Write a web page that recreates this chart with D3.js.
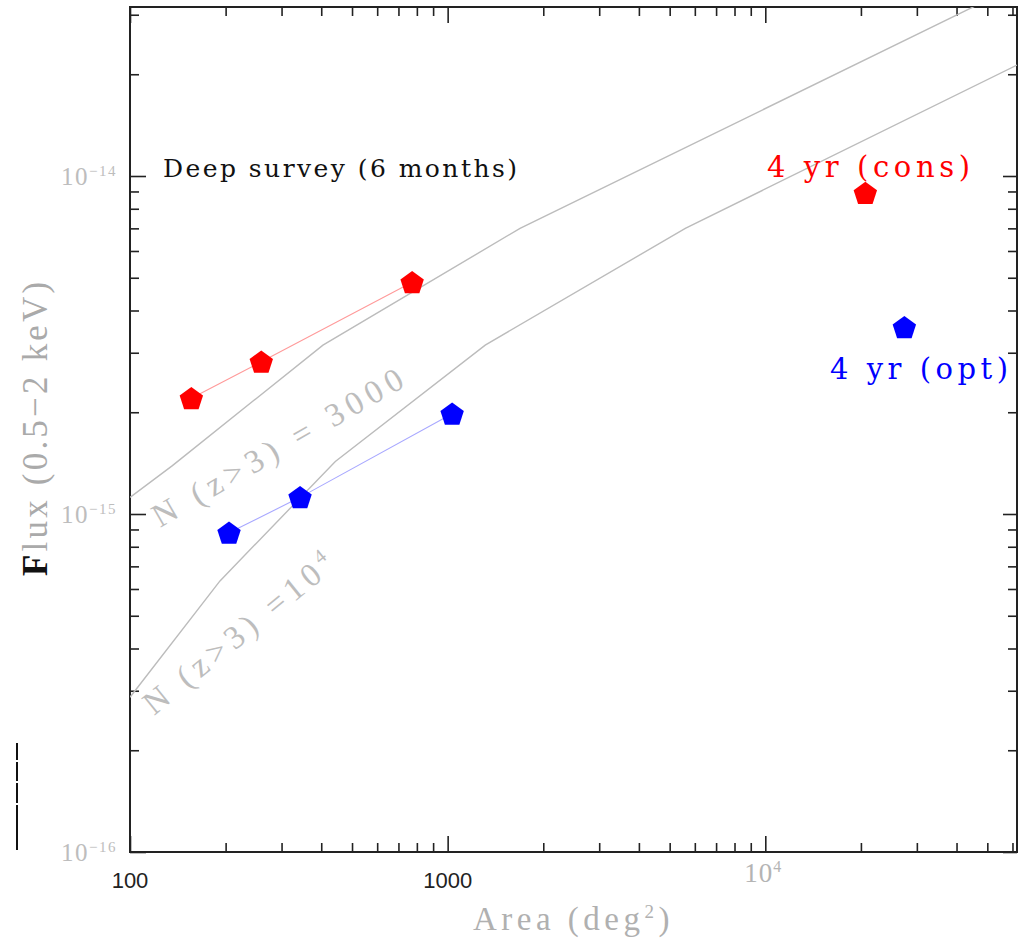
<!DOCTYPE html>
<html>
<head>
<meta charset="utf-8">
<script src="https://cdn.jsdelivr.net/npm/d3@7"></script>
<style>
  body { margin: 0; background: #fff; }
  svg { display: block; }
</style>
</head>
<body>
<svg id="chart" width="1019" height="941"></svg>
<script>
// Survey area (deg^2) versus limiting flux in the 0.5-2 keV band.
// Deep survey (6 months), conservative and optimistic cases
const deepConsArea = [156, 259, 773];
const deepConsFlux = [2.20e-15, 2.82e-15, 4.85e-15];
const deepOptArea  = [205, 343, 1033];
const deepOptFlux  = [8.8e-16, 1.12e-15, 1.98e-15];

// 4-year all-sky survey, conservative and optimistic
const allSkyConsArea = [20650];
const allSkyConsFlux = [8.9e-15];
const allSkyOptArea  = [27400];
const allSkyOptFlux  = [3.57e-15];

// Curves of constant number of z>3 sources
const n3000Area = [100, 136, 405, 1690, 62000];
const n3000Flux = [1.12e-15, 1.39e-15, 3.16e-15, 7.0e-15, 3.66e-14];
const n10kArea  = [100, 192, 443, 1313, 5600, 62000];
const n10kFlux  = [2.87e-16, 6.34e-16, 1.43e-15, 3.16e-15, 7.0e-15, 2.13e-14];

// Axis ticks
const areaMajorTicks = [100, 1000, 10000];
const areaMinorTicks = [200, 300, 400, 500, 600, 700, 800, 900,
                        2000, 3000, 4000, 5000, 6000, 7000, 8000, 9000,
                        20000, 30000, 40000, 50000, 60000];
const fluxMajorTicks = [1e-16, 1e-15, 1e-14];
const fluxMinorTicks = [2e-16, 3e-16, 4e-16, 5e-16, 6e-16, 7e-16, 8e-16, 9e-16,
                        2e-15, 3e-15, 4e-15, 5e-15, 6e-15, 7e-15, 8e-15, 9e-15,
                        2e-14, 3e-14];
const areaTickLabels = ["100", "1000", "10|4"];
const fluxTickLabels = ["10|\u221216", "10|\u221215", "10|\u221214"];

const svg = d3.select("#chart");
const L = 130, R = 1017, T = 7, B = 852;
const SERIF = "Liberation Serif, Times New Roman, serif";
const WIDE_SERIF = "DejaVu Serif, serif";

const x = d3.scaleLog().domain([100, 62000]).range([L, R]);
const y = d3.scaleLog().domain([1e-16, Math.pow(10, -13.5)]).range([B, T]);

svg.append("defs").append("clipPath").attr("id", "plotArea")
  .append("rect").attr("x", L).attr("y", T).attr("width", R - L).attr("height", B - T);

// --- frame ticks on all four sides (pointing inward) ---
function tickAxis(axisFn, scale, values, size, tx, ty) {
  const g = svg.append("g")
    .attr("transform", `translate(${tx},${ty})`)
    .call(axisFn(scale).tickValues(values).tickSize(-size).tickFormat(""));
  g.select(".domain").remove();
  g.selectAll(".tick line").attr("stroke", "#222").attr("stroke-width", 1.6);
}
tickAxis(d3.axisBottom, x, areaMajorTicks, 16, 0, B);
tickAxis(d3.axisBottom, x, areaMinorTicks, 9, 0, B);
tickAxis(d3.axisTop, x, areaMajorTicks, 16, 0, T);
tickAxis(d3.axisTop, x, areaMinorTicks, 9, 0, T);
tickAxis(d3.axisLeft, y, fluxMajorTicks, 16, L, 0);
tickAxis(d3.axisLeft, y, fluxMinorTicks, 9, L, 0);
tickAxis(d3.axisRight, y, fluxMajorTicks, 14, R, 0);
tickAxis(d3.axisRight, y, fluxMinorTicks, 9, R, 0);

// frame
svg.append("rect")
  .attr("x", L).attr("y", T).attr("width", R - L).attr("height", B - T)
  .attr("fill", "none").attr("stroke", "#222").attr("stroke-width", 2);

// --- tick labels ---
areaMajorTicks.forEach((v, i) => {
  const parts = areaTickLabels[i].split("|");
  if (parts.length === 1) {
    svg.append("text")
      .attr("x", x(v)).attr("y", 888)
      .attr("text-anchor", "middle")
      .attr("font-family", "Liberation Sans, Arial, sans-serif")
      .attr("font-size", 22).attr("fill", "#222")
      .text(parts[0]);
  } else {
    const t = svg.append("text")
      .attr("x", x(v) - 2).attr("y", 882)
      .attr("text-anchor", "middle")
      .attr("font-family", SERIF)
      .attr("font-size", 27).attr("fill", "#b4b4b4")
      .attr("letter-spacing", 1);
    t.append("tspan").text(parts[0]);
    t.append("tspan").attr("dy", -10).attr("font-size", 16).text(parts[1]);
  }
});

fluxMajorTicks.forEach((v, i) => {
  const parts = fluxTickLabels[i].split("|");
  const t = svg.append("text")
    .attr("x", 117).attr("y", y(v) + 9)
    .attr("text-anchor", "end")
    .attr("font-family", SERIF)
    .attr("font-size", 25).attr("fill", "#bdbdbd")
    .attr("letter-spacing", 1.5);
  t.append("tspan").text(parts[0]);
  t.append("tspan").attr("dy", -9).attr("font-size", 15).text(parts[1]);
});

// --- axis titles ---
const xt = svg.append("text")
  .attr("x", 473).attr("y", 930)
  .attr("font-family", SERIF)
  .attr("font-size", 33).attr("fill", "#b0b0b0")
  .attr("letter-spacing", 4.5);
xt.append("tspan").text("Area (deg");
xt.append("tspan").attr("dy", -12).attr("font-size", 19).text("2");
xt.append("tspan").attr("dy", 12).text(")");

const yt = svg.append("text")
  .attr("transform", "translate(47,576) rotate(-90)")
  .attr("font-family", SERIF)
  .attr("font-size", 35).attr("fill", "#aaaaaa")
  .attr("letter-spacing", 3.2);
yt.append("tspan").attr("fill", "#111").attr("font-weight", "bold").text("F");
yt.append("tspan").text("lux (0.5\u22122 keV)");

// dashed marker at the left margin
svg.append("line")
  .attr("x1", 17).attr("x2", 17).attr("y1", 743).attr("y2", 850)
  .attr("stroke", "#111").attr("stroke-width", 2)
  .attr("stroke-dasharray", "17,2,19,2,20,2,50");

// --- constant-N curves ---
const plot = svg.append("g").attr("clip-path", "url(#plotArea)");
const line = d3.line().x(d => x(d[0])).y(d => y(d[1]));
plot.append("path")
  .datum(d3.zip(n3000Area, n3000Flux))
  .attr("d", line).attr("fill", "none")
  .attr("stroke", "#bcbcbc").attr("stroke-width", 1.4);
plot.append("path")
  .datum(d3.zip(n10kArea, n10kFlux))
  .attr("d", line).attr("fill", "none")
  .attr("stroke", "#bcbcbc").attr("stroke-width", 1.4);

// --- survey tracks ---
plot.append("path")
  .datum(d3.zip(deepConsArea, deepConsFlux))
  .attr("d", line).attr("fill", "none")
  .attr("stroke", "#ff9a9a").attr("stroke-width", 1.1);
plot.append("path")
  .datum(d3.zip(deepOptArea, deepOptFlux))
  .attr("d", line).attr("fill", "none")
  .attr("stroke", "#a8a8ff").attr("stroke-width", 1.1);

// pentagon symbol, point up
const pentagon = {
  draw(ctx, size) {
    const r = Math.sqrt(size / (2.5 * Math.sin(2 * Math.PI / 5)));
    for (let k = 0; k < 5; k++) {
      const a = -Math.PI / 2 + k * 2 * Math.PI / 5;
      const px = r * Math.cos(a), py = r * Math.sin(a);
      if (k === 0) ctx.moveTo(px, py); else ctx.lineTo(px, py);
    }
    ctx.closePath();
  }
};
const sym = d3.symbol().type(pentagon).size(2.378 * 12.3 * 12.3);

function markers(areas, fluxes, color) {
  plot.append("g").selectAll("path")
    .data(d3.zip(areas, fluxes))
    .join("path")
    .attr("transform", d => `translate(${x(d[0])},${y(d[1]) + 1})`)
    .attr("d", sym)
    .attr("fill", color);
}
markers(deepConsArea, deepConsFlux, "#ff0000");
markers(deepOptArea, deepOptFlux, "#0000ff");
markers(allSkyConsArea, allSkyConsFlux, "#ff0000");
markers(allSkyOptArea, allSkyOptFlux, "#0000ff");

// --- annotations ---
svg.append("text")
  .attr("x", 163).attr("y", 177)
  .attr("font-family", WIDE_SERIF)
  .attr("font-size", 25).attr("fill", "#111")
  .attr("textLength", 354).attr("lengthAdjust", "spacing")
  .text("Deep survey (6 months)");

svg.append("text")
  .attr("x", 767).attr("y", 177)
  .attr("font-family", WIDE_SERIF)
  .attr("font-size", 29).attr("fill", "#ff0000")
  .attr("textLength", 203).attr("lengthAdjust", "spacing")
  .text("4 yr (cons)");

svg.append("text")
  .attr("x", 830).attr("y", 379)
  .attr("font-family", WIDE_SERIF)
  .attr("font-size", 29).attr("fill", "#0000ff")
  .attr("textLength", 178).attr("lengthAdjust", "spacing")
  .text("4 yr (opt)");

svg.append("text")
  .attr("transform", "translate(160,528) rotate(-30)")
  .attr("font-family", SERIF)
  .attr("font-size", 33).attr("fill", "#bdbdbd")
  .attr("textLength", 284).attr("lengthAdjust", "spacing")
  .text("N (z>3) = 3000");

const t4 = svg.append("text")
  .attr("transform", "translate(154,716) rotate(-39)")
  .attr("font-family", SERIF)
  .attr("font-size", 33).attr("fill", "#bdbdbd")
  .attr("letter-spacing", 5.5);
t4.append("tspan").text("N (z>3) =10");
t4.append("tspan").attr("dy", -13).attr("font-size", 20).text("4");
</script>
</body>
</html>
